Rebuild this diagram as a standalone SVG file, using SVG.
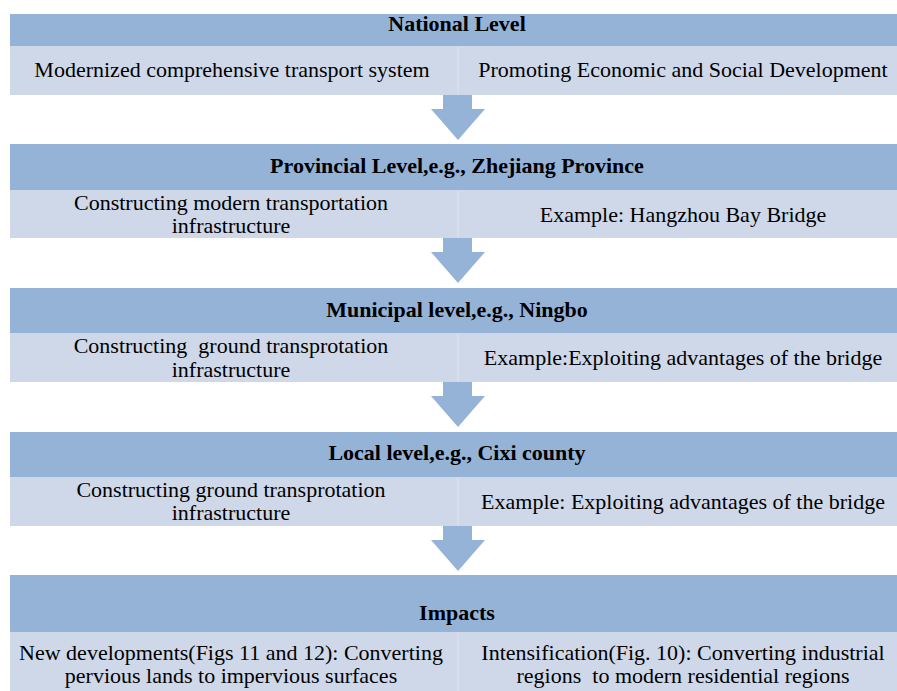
<svg xmlns="http://www.w3.org/2000/svg" width="897" height="691" viewBox="0 0 897 691">
<style>
.hd{fill:#95b3d7}
.lt{fill:#cfd8e8}
.dv{stroke:#dbe2ee;stroke-width:1.5}
.ar{fill:#95b3d7}
text{font-family:"Liberation Serif","Times New Roman",serif;fill:#000;text-anchor:middle}
.h{font-size:22px;font-weight:bold}
.b{font-size:22px}
</style>
<rect width="897" height="691" fill="#fff"/>
<g id="connectors">
<path class="ar" d="M443,95 H472 V109 H485 L458,140 L431,109 H443 Z"/>
<path class="ar" d="M443,238 H472 V252 H485 L458,283 L431,252 H443 Z"/>
<path class="ar" d="M443,382 H472 V396 H485 L458,427 L431,396 H443 Z"/>
<path class="ar" d="M443,526 H472 V540 H485 L458,571 L431,540 H443 Z"/>
</g>
<g id="national">
<rect class="hd" x="10" y="14" width="887" height="32"/>
<rect class="lt" x="10" y="46" width="887" height="49"/>
<line class="dv" x1="458" y1="47" x2="458" y2="95"/>
<text class="h" x="457" y="31">National Level</text>
<text class="b" x="232" y="77">Modernized comprehensive transport system</text>
<text class="b" x="683" y="77">Promoting Economic and Social Development</text>
</g>
<g id="provincial">
<rect class="hd" x="10" y="144" width="887" height="46"/>
<rect class="lt" x="10" y="190" width="887" height="48"/>
<line class="dv" x1="458" y1="191" x2="458" y2="238"/>
<text class="h" x="457" y="173">Provincial Level,e.g., Zhejiang Province</text>
<text class="b" x="231" y="210">Constructing modern transportation</text>
<text class="b" x="231" y="233">infrastructure</text>
<text class="b" x="683" y="222">Example: Hangzhou Bay Bridge</text>
</g>
<g id="municipal">
<rect class="hd" x="10" y="288" width="887" height="45"/>
<rect class="lt" x="10" y="333" width="887" height="49"/>
<line class="dv" x1="458" y1="334" x2="458" y2="382"/>
<text class="h" x="457" y="317">Municipal level,e.g., Ningbo</text>
<text class="b" x="231" y="353" xml:space="preserve">Constructing  ground transprotation</text>
<text class="b" x="231" y="377">infrastructure</text>
<text class="b" x="683" y="365">Example:Exploiting advantages of the bridge</text>
</g>
<g id="local">
<rect class="hd" x="10" y="432" width="887" height="45"/>
<rect class="lt" x="10" y="477" width="887" height="49"/>
<line class="dv" x1="458" y1="478" x2="458" y2="526"/>
<text class="h" x="457" y="460">Local level,e.g., Cixi county</text>
<text class="b" x="231" y="497">Constructing ground transprotation</text>
<text class="b" x="231" y="520">infrastructure</text>
<text class="b" x="683" y="509">Example: Exploiting advantages of the bridge</text>
</g>
<g id="impacts">
<rect class="hd" x="10" y="575" width="887" height="57"/>
<rect class="lt" x="10" y="632" width="887" height="59"/>
<line class="dv" x1="458" y1="633" x2="458" y2="691"/>
<text class="h" x="457" y="620">Impacts</text>
<text class="b" x="231" y="660">New developments(Figs 11 and 12): Converting</text>
<text class="b" x="231" y="683">pervious lands to impervious surfaces</text>
<text class="b" x="683" y="660">Intensification(Fig. 10): Converting industrial</text>
<text class="b" x="683" y="683" xml:space="preserve">regions  to modern residential regions</text>
</g>
</svg>
